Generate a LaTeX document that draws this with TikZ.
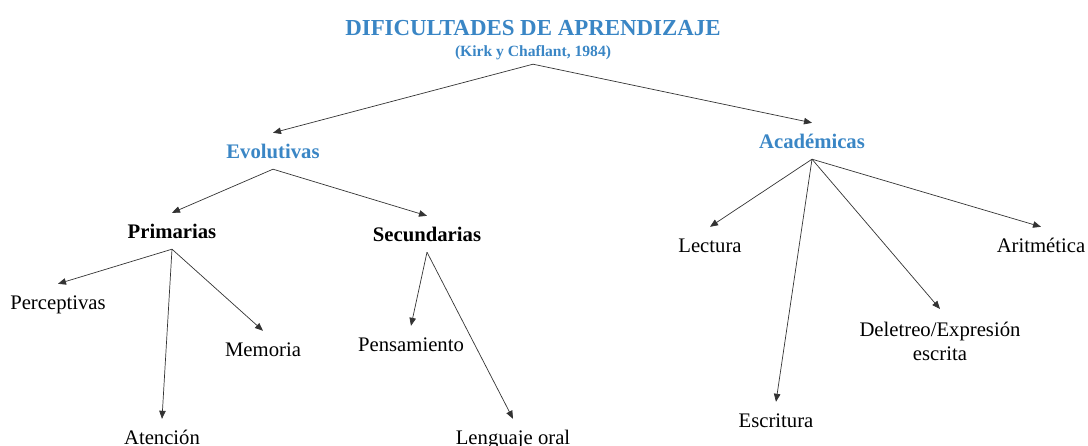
\documentclass[tikz,border=0pt]{standalone}
\usepackage{fontspec}
\setmainfont{Liberation Serif}
\usetikzlibrary{arrows.meta}
\definecolor{titleblue}{RGB}{58,134,197}
\tikzset{
    box/.style={inner sep=8pt, text height=18pt, text depth=2pt, font=\fontsize{20.7}{24}\selectfont},
    maintitle/.style={text=titleblue, inner sep=0pt, font=\fontsize{22.9}{26}\selectfont\bfseries},
    subtitle/.style={text=titleblue, inner sep=7pt, text height=14pt, text depth=0pt, font=\fontsize{15.6}{18}\selectfont\bfseries},
    area/.style={box, text=titleblue, font=\fontsize{20.7}{24}\selectfont\bfseries},
    group/.style={box, font=\fontsize{20.7}{24}\selectfont\bfseries},
    leaf/.style={box},
    link/.style={-{Triangle[length=8pt,width=6.5pt]}, draw=black!80, line width=0.7pt}
}
\begin{document}
\begin{tikzpicture}[x=1pt,y=-1pt]
\useasboundingbox (0,0) rectangle (1088,446);
\node[maintitle] (title) at (533,28) {DIFICULTADES DE APRENDIZAJE};
\node[subtitle] (kirk) at (533,50) {(Kirk y Chaflant, 1984)};

\node[area] (evol) at (273,151) {Evolutivas};
\node[area] (acad) at (812,141) {Académicas};

\node[group] (prim) at (172,231) {Primarias};
\node[group] (secu) at (427,234) {Secundarias};

\node[leaf] (perc) at (58,302) {Perceptivas};
\node[leaf] (aten) at (162,437) {Atención};
\node[leaf] (memo) at (263,349) {Memoria};
\node[leaf] (pens) at (411,344) {Pensamiento};
\node[leaf] (leng) at (513,437) {Lenguaje oral};

\node[leaf] (lect) at (710,245) {Lectura};
\node[leaf] (escr) at (776,420) {Escritura};
\node[leaf, align=center, text height=, text depth=, inner sep=9pt, outer sep=4pt, anchor=north] (dele) at (940,309) {Deletreo/Expresión\\escrita};
\node[leaf] (arit) at (1041,245) {Aritmética};

\draw[link] (kirk.south)--(evol.north);
\draw[link] (kirk.south)--(acad.north);
\draw[link] (evol.south)--(prim.north);
\draw[link] (evol.south)--(secu.north);
\draw[link] (prim.south)--(perc.north);
\draw[link] (prim.south)--(aten.north);
\draw[link] (prim.south)--(memo.north);
\draw[link] (secu.south)--(pens.north);
\draw[link] (secu.south)--(leng.north);
\draw[link] (acad.south)--(lect.north);
\draw[link] (acad.south)--(escr.north);
\draw[link] (acad.south)--(dele.north);
\draw[link] (acad.south)--(arit.north);
\end{tikzpicture}
\end{document}
